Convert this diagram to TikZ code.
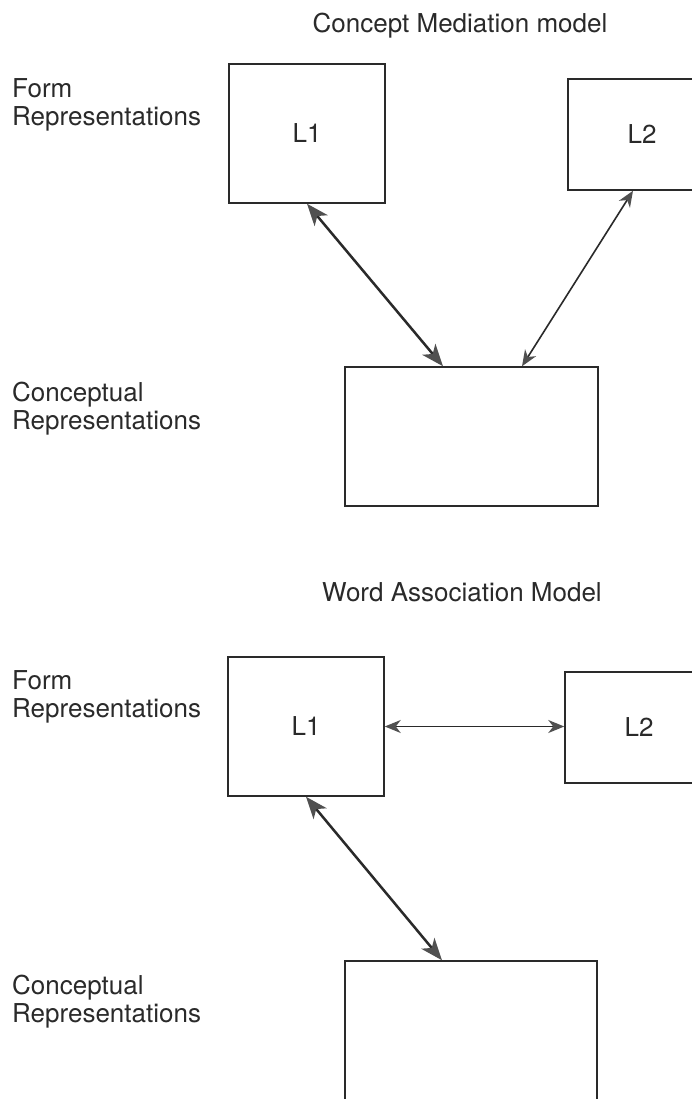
\documentclass[tikz,border=0pt]{standalone}
\usepackage{fontspec}
\setmainfont{TeX Gyre Heros}
\usetikzlibrary{arrows.meta,calc}
\definecolor{linegray}{HTML}{2A2A2A}
\definecolor{tipgray}{HTML}{505050}
\tikzset{
  txt/.style={font=\fontsize{26}{28.5}\selectfont, inner sep=0pt, text=linegray},
  lbl/.style={txt, align=left, anchor=north west},
  box/.style={draw=linegray, line width=1.5pt, txt},
  thickarrow/.style={draw=linegray, line width=2.5pt,
    {Stealth[length=22pt,width=17pt,inset=6pt,color=tipgray]}-{Stealth[length=22pt,width=17pt,inset=6pt,color=tipgray]}},
  thinarrow/.style={draw=linegray, line width=1.6pt,
    {Stealth[length=16pt,width=13pt,inset=5pt,color=tipgray]}-{Stealth[length=16pt,width=13pt,inset=5pt,color=tipgray]}}
}
\begin{document}
\begin{tikzpicture}[x=1pt,y=-1pt]
\useasboundingbox[fill=white] (0,0) rectangle (691,1099);

% ---- Concept Mediation model ----
\node[txt, anchor=base] (t1) at (460,33) {Concept Mediation model};
\node[lbl] (f1) at (12,78) {Form\\Representations};
\node[lbl] (c1l) at (12,381.5) {Conceptual\\Representations};

\node[box, minimum width=156pt, minimum height=139pt] (L1a) at (307,133.5) {L1};
\node[box, minimum width=148pt, minimum height=111pt] (L2a) at (642,134.5) {L2};
\node[box, minimum width=253pt, minimum height=139pt] (C1) at (471.5,436.5) {};

\draw[thickarrow] (L1a.south) -- ($(C1.north)+(-28.5,0)$);
\draw[thinarrow] ($(L2a.south)+(-9,0)$) -- ($(C1.north)+(50.5,0)$);

% ---- Word Association Model ----
\node[txt, anchor=base] (t2) at (462,601) {Word Association Model};
\node[lbl] (f2) at (12,670) {Form\\Representations};
\node[lbl] (c2l) at (12,974.5) {Conceptual\\Representations};

\node[box, minimum width=156pt, minimum height=139pt] (L1b) at (306,726.5) {L1};
\node[box, minimum width=148pt, minimum height=111pt] (L2b) at (639,727.5) {L2};
\node[box, minimum width=252pt, minimum height=139pt] (C2) at (471,1030.5) {};

\draw[thinarrow] (L1b.east) -- (L1b.east -| L2b.west);
\draw[thickarrow] (L1b.south) -- ($(C2.north)+(-29,0)$);
\end{tikzpicture}
\end{document}
